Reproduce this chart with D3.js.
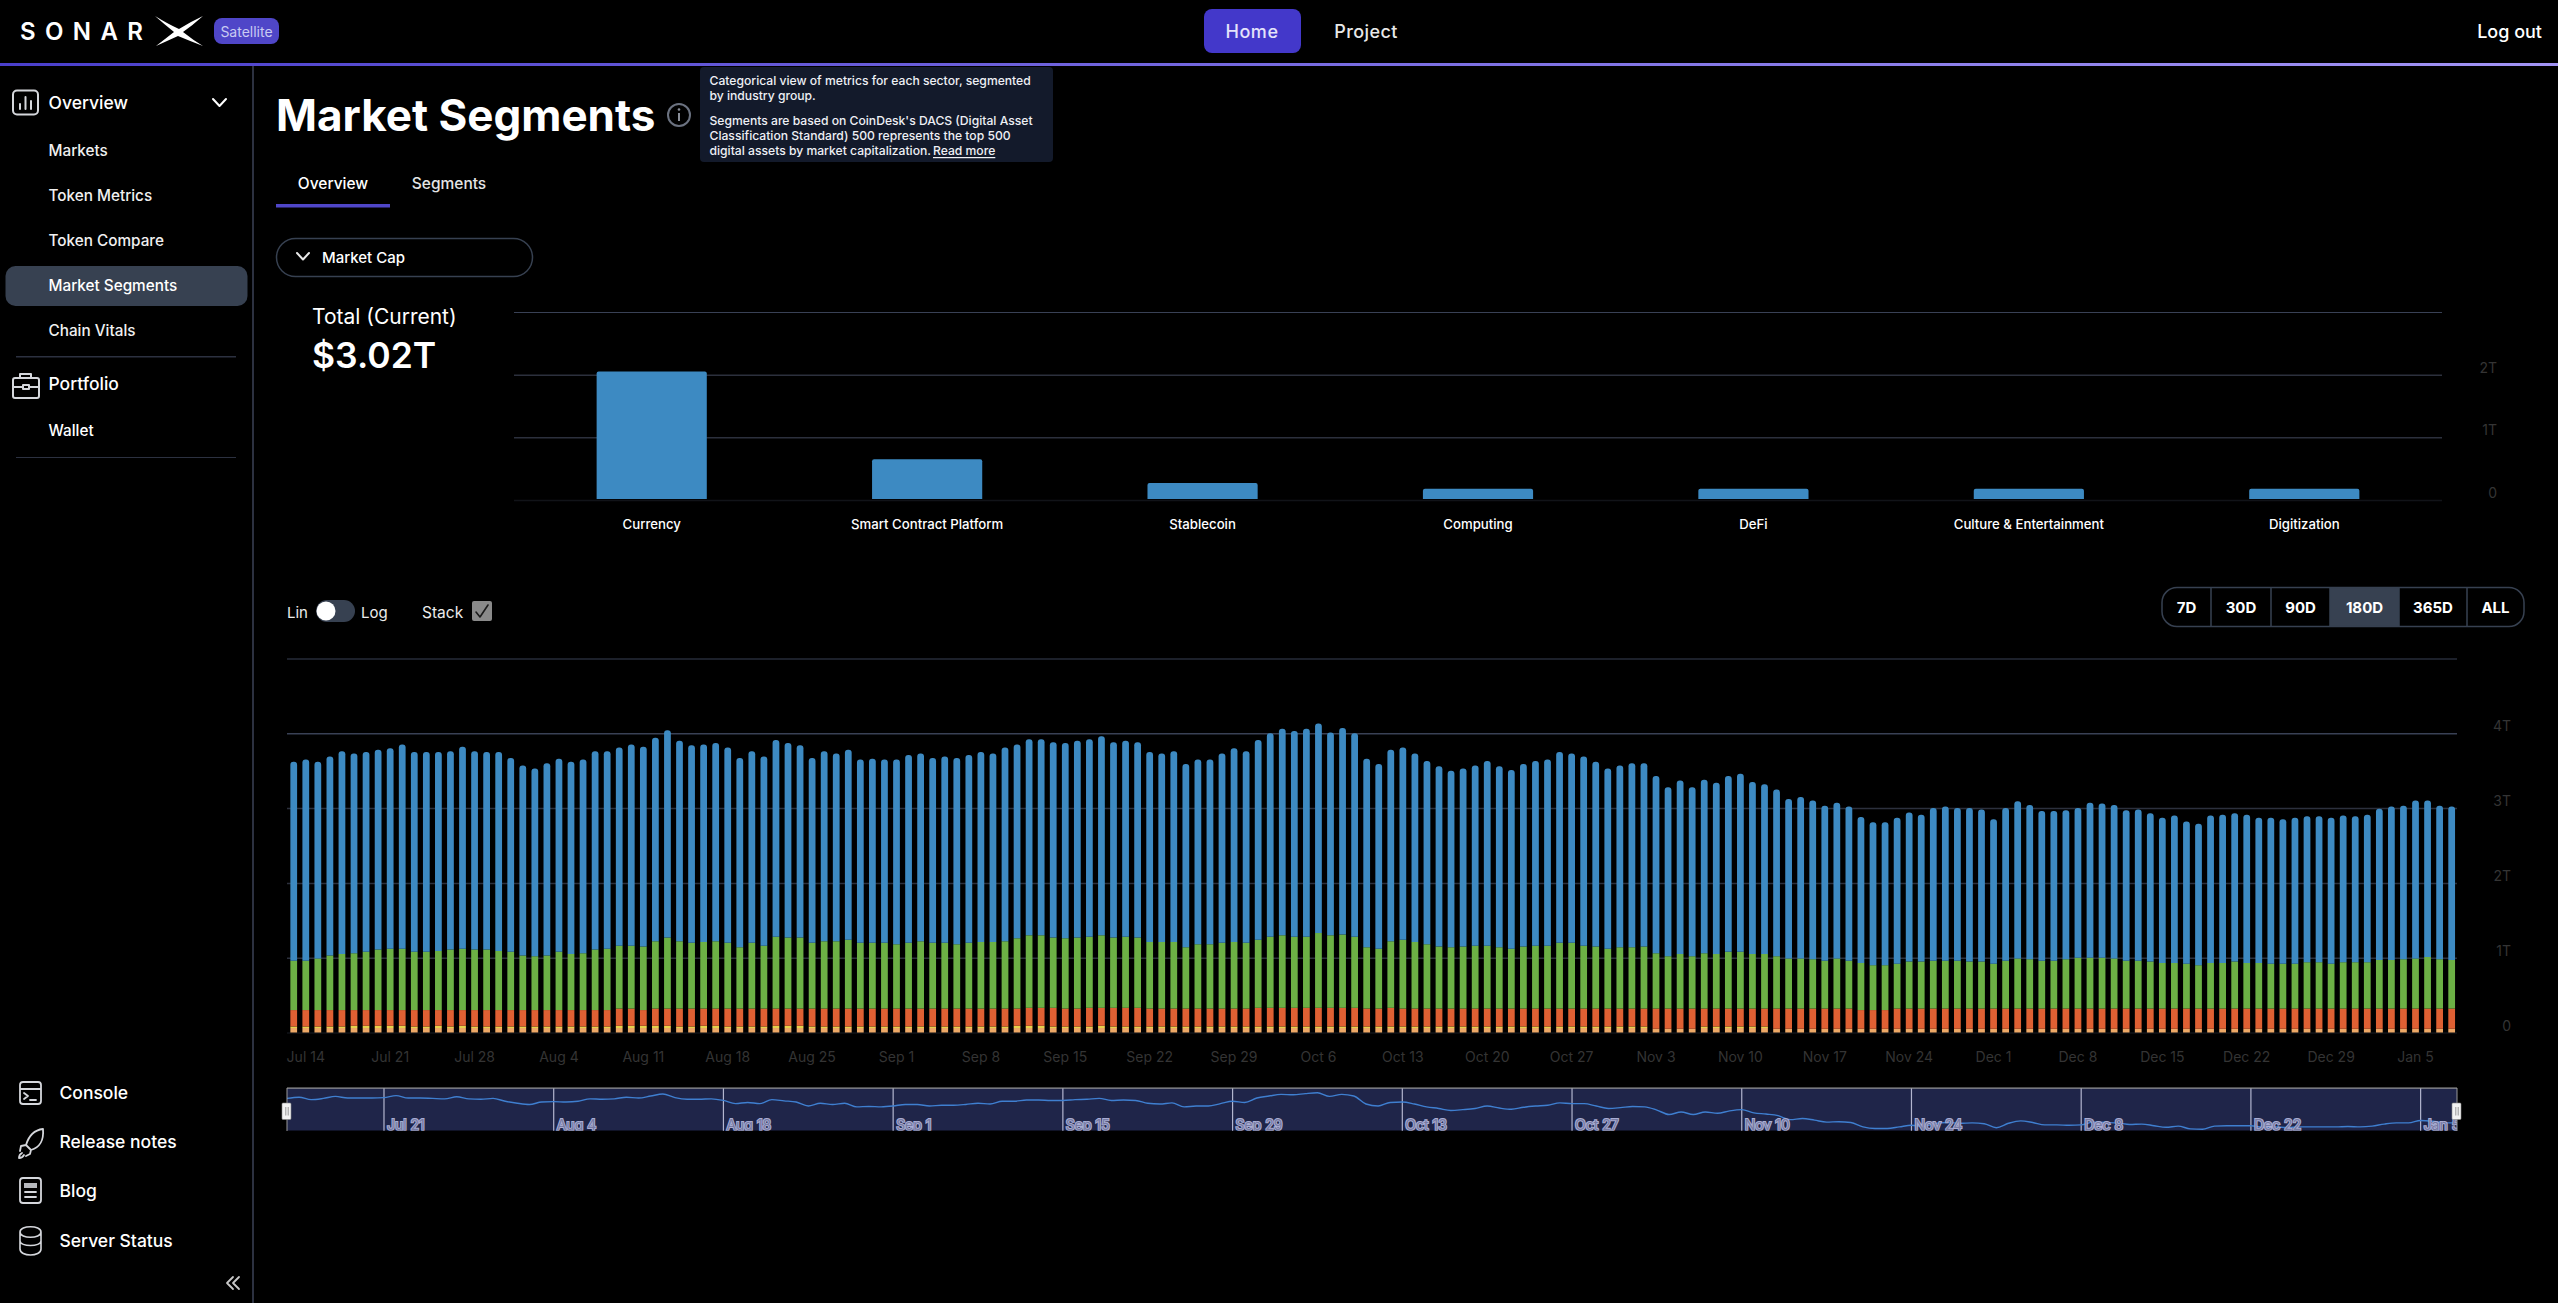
<!DOCTYPE html>
<html>
<head>
<meta charset="utf-8">
<title>Market Segments</title>
<script src="https://cdn.jsdelivr.net/npm/d3@7"></script>
<style>
  html, body { margin: 0; background: #000; overflow: hidden; }
  svg { display: block; font-family: Inter, "Noto Sans", sans-serif; }
  .axis .domain { display: none; }
</style>
</head>
<body>
<svg id="page" width="2558" height="1303"></svg>
<script>
// ----- data -----
const sectors = ["Currency", "Smart Contract Platform", "Stablecoin", "Computing", "DeFi", "Culture & Entertainment", "Digitization"];
const sectorCaps = [2.05, 0.65, 0.27, 0.18, 0.18, 0.18, 0.18];
const sectorTicks = [0, 1, 2, 3];
const sectorTickLabels = ["0", "1T", "2T", ""];

const weekTicks = ["Jul 14", "Jul 21", "Jul 28", "Aug 4", "Aug 11", "Aug 18", "Aug 25", "Sep 1", "Sep 8", "Sep 15", "Sep 22", "Sep 29", "Oct 6", "Oct 13", "Oct 20", "Oct 27", "Nov 3", "Nov 10", "Nov 17", "Nov 24", "Dec 1", "Dec 8", "Dec 15", "Dec 22", "Dec 29", "Jan 5"];
const sliderTicks = ["Jul 21", "Aug 4", "Aug 18", "Sep 1", "Sep 15", "Sep 29", "Oct 13", "Oct 27", "Nov 10", "Nov 24", "Dec 8", "Dec 22", "Jan 5"];
const stackTicks = [0, 1, 2, 3, 4, 5];
const stackTickLabels = ["0", "1T", "2T", "3T", "4T", ""];

// stack tops per day, in trillions, read bottom to top off the bars
const digitizationTop = [
  .06,.06,.06,.06,.06,.06,.06,.06,.06,.06, .06,.06,.06,.06,.06,.06,.06,.06,.06,.06,
  .06,.06,.06,.06,.06,.06,.06,.06,.06,.06, .06,.06,.06,.06,.06,.06,.06,.06,.06,.06,
  .06,.06,.06,.06,.06,.06,.06,.06,.06,.06, .06,.06,.06,.06,.06,.06,.06,.06,.06,.06,
  .06,.06,.06,.06,.06,.06,.06,.06,.06,.06, .06,.06,.06,.06,.06,.06,.06,.06,.06,.06,
  .06,.06,.06,.06,.06,.06,.06,.06,.06,.06, .06,.06,.06,.06,.06,.06,.06,.06,.06,.06,
  .06,.06,.06,.06,.06,.06,.06,.06,.06,.06, .06,.06,.06,.05,.05,.05,.05,.06,.06,.06,
  .06,.06,.06,.05,.05,.05,.05,.05,.05,.05, .05,.05,.05,.05,.05,.05,.05,.05,.05,.05,
  .05,.05,.05,.05,.05,.05,.05,.05,.05,.05, .05,.05,.05,.05,.05,.05,.05,.05,.05,.05,
  .05,.05,.05,.05,.05,.05,.05,.05,.05,.05, .05,.05,.05,.05,.05,.05,.05,.05,.05,.05];
const defiTop = [
  .08,.08,.08,.08,.08,.09,.09,.09,.09,.09, .08,.08,.09,.08,.09,.08,.08,.08,.08,.08,
  .08,.08,.08,.08,.08,.08,.08,.09,.09,.09, .09,.09,.08,.08,.09,.09,.08,.08,.08,.08,
  .09,.09,.09,.08,.08,.08,.08,.08,.08,.08, .08,.08,.08,.08,.08,.08,.08,.08,.08,.08,
  .09,.09,.09,.08,.08,.08,.08,.09,.08,.08, .08,.08,.08,.08,.08,.08,.08,.08,.08,.08,
  .08,.08,.08,.08,.08,.08,.08,.08,.08,.08, .08,.08,.08,.08,.08,.08,.08,.08,.08,.08,
  .08,.08,.08,.08,.08,.08,.08,.08,.08,.08, .08,.08,.08,.05,.05,.05,.05,.08,.08,.08,
  .08,.08,.08,.05,.05,.05,.05,.05,.05,.05, .05,.05,.05,.05,.05,.05,.05,.05,.05,.05,
  .05,.05,.05,.05,.05,.05,.05,.05,.05,.05, .05,.05,.05,.05,.05,.05,.05,.05,.05,.05,
  .05,.05,.05,.05,.05,.05,.05,.05,.05,.05, .05,.05,.05,.05,.05,.05,.05,.05,.05,.05];
const stablecoinTop = [
  .30,.30,.30,.30,.30,.30,.30,.30,.30,.30, .30,.30,.30,.30,.30,.30,.30,.30,.30,.30,
  .30,.30,.30,.30,.30,.30,.30,.32,.32,.30, .32,.32,.32,.32,.32,.32,.32,.32,.32,.32,
  .32,.32,.32,.32,.32,.32,.32,.32,.32,.32, .32,.32,.32,.32,.32,.32,.32,.32,.32,.32,
  .32,.33,.33,.33,.32,.32,.33,.33,.33,.33, .33,.32,.32,.32,.32,.32,.32,.32,.32,.32,
  .33,.33,.33,.33,.33,.33,.33,.33,.33,.32, .32,.33,.32,.32,.32,.32,.32,.32,.32,.32,
  .32,.32,.32,.32,.32,.32,.32,.32,.32,.32, .32,.32,.32,.32,.32,.32,.32,.32,.32,.32,
  .32,.32,.32,.32,.32,.32,.32,.32,.32,.32, .30,.30,.30,.32,.32,.32,.32,.32,.32,.32,
  .32,.32,.32,.32,.32,.32,.32,.32,.32,.32, .32,.32,.32,.32,.32,.32,.32,.32,.32,.32,
  .32,.32,.32,.32,.32,.32,.32,.32,.32,.32, .32,.32,.32,.32,.32,.32,.32,.32,.32,.32];
const platformTop = [
  .96,.96,.99,1.03,1.05,1.06,1.08,1.11,1.12,1.12,1.08,1.08,1.09,1.11,1.12,1.11,1.11,1.09,1.08,1.03,
  1.02,1.03,1.08,1.05,1.06,1.11,1.12,1.16,1.16,1.15,1.22,1.27,1.22,1.20,1.21,1.22,1.20,1.14,1.20,1.16,
  1.28,1.27,1.27,1.20,1.22,1.22,1.24,1.20,1.20,1.20,1.18,1.20,1.22,1.20,1.20,1.18,1.20,1.21,1.21,1.22,
  1.26,1.30,1.30,1.27,1.26,1.27,1.28,1.30,1.27,1.28,1.27,1.21,1.21,1.21,1.14,1.18,1.18,1.20,1.21,1.20,
  1.24,1.28,1.30,1.28,1.28,1.33,1.30,1.31,1.28,1.14,1.12,1.22,1.24,1.21,1.18,1.15,1.14,1.15,1.16,1.16,
  1.14,1.12,1.15,1.16,1.16,1.20,1.20,1.16,1.15,1.12,1.14,1.14,1.15,1.06,1.02,1.05,1.02,1.06,1.05,1.08,
  1.08,1.05,1.05,1.02,.99,.99,.98,.96,.99,.96,.93,.90,.90,.92,.95,.95,.96,.96,.96,.95,
  .95,.92,.96,.99,.98,.96,.96,.98,1.00,1.00,1.00,.99,.96,.96,.95,.93,.93,.92,.90,.93,
  .93,.95,.93,.93,.92,.92,.92,.94,.94,.92,.94,.94,.94,.97,.97,.98,.99,1.01,.98,.97];
const totalTop = [
  3.62,3.65,3.62,3.69,3.76,3.73,3.75,3.78,3.80,3.85,3.75,3.75,3.75,3.76,3.82,3.76,3.75,3.75,3.67,3.57,
  3.53,3.60,3.66,3.62,3.65,3.76,3.76,3.81,3.85,3.82,3.94,4.04,3.90,3.84,3.85,3.87,3.81,3.67,3.76,3.69,
  3.91,3.87,3.84,3.67,3.76,3.73,3.78,3.65,3.66,3.65,3.65,3.71,3.73,3.67,3.69,3.67,3.71,3.75,3.73,3.81,
  3.85,3.92,3.92,3.88,3.87,3.90,3.92,3.96,3.88,3.90,3.88,3.75,3.73,3.76,3.59,3.65,3.65,3.73,3.80,3.76,
  3.91,4.00,4.06,4.03,4.06,4.13,4.01,4.07,4.00,3.66,3.59,3.78,3.81,3.73,3.63,3.56,3.50,3.53,3.57,3.63,
  3.56,3.51,3.59,3.63,3.65,3.75,3.73,3.69,3.62,3.53,3.57,3.60,3.60,3.43,3.28,3.37,3.28,3.38,3.34,3.43,
  3.46,3.35,3.32,3.25,3.12,3.15,3.10,3.03,3.07,3.02,2.88,2.81,2.81,2.87,2.94,2.91,3.00,3.02,3.00,3.00,
  2.98,2.85,3.00,3.09,3.04,2.96,2.96,2.97,3.00,3.07,3.06,3.04,2.97,2.98,2.93,2.87,2.90,2.82,2.79,2.90,
  2.91,2.93,2.91,2.87,2.87,2.85,2.87,2.89,2.89,2.87,2.90,2.89,2.91,2.99,3.02,3.03,3.10,3.10,3.03,3.02];

const rangeOptions = ["7D", "30D", "90D", "180D", "365D", "ALL"];
const menuItems = ["Markets", "Token Metrics", "Token Compare", "Market Segments", "Chain Vitals"];
const footerItems = ["Console", "Release notes", "Blog", "Server Status"];
const tooltipLines = [
  "Categorical view of metrics for each sector, segmented",
  "by industry group.",
  "Segments are based on CoinDesk's DACS (Digital Asset",
  "Classification Standard) 500 represents the top 500",
  "digital assets by market capitalization."
];

// ----- helpers -----
const svg = d3.select("#page");
const BLUE = "#3d8ac2", GRID = "#2c303d", GRID_TOP = "#394155", DIM = "#343434";

function text(parent, x, y, str, o = {}) {
  return parent.append("text")
    .attr("x", x).attr("y", y)
    .attr("dominant-baseline", "central")
    .attr("text-anchor", o.anchor || "start")
    .attr("fill", o.fill || "#fff")
    .attr("font-size", o.size || 15)
    .attr("font-weight", o.weight || 500)
    .attr("letter-spacing", o.spacing || null)
    .text(str);
}

function icon(d, w = 2, stroke = "#d5d7dc") {
  return svg.append("path").attr("d", d).attr("fill", "none")
    .attr("stroke", stroke).attr("stroke-width", w)
    .attr("stroke-linecap", "round").attr("stroke-linejoin", "round");
}

// bar with only the top corners rounded
function roundedTop(x, yTop, w, yBase, r) {
  const p = d3.path();
  p.moveTo(x, yBase);
  p.lineTo(x, yTop + r);
  p.arcTo(x, yTop, x + r, yTop, r);
  p.lineTo(x + w - r, yTop);
  p.arcTo(x + w, yTop, x + w, yTop + r, r);
  p.lineTo(x + w, yBase);
  p.closePath();
  return p.toString();
}

function grid(scale, ticks, labels, left, right, labelX) {
  const g = svg.append("g").attr("class", "axis").attr("transform", `translate(${right},0)`);
  g.call(d3.axisRight(scale).tickValues(ticks).tickSize(left - right).tickFormat((d) => labels[ticks.indexOf(d)]));
  g.selectAll(".tick line")
    .attr("stroke", (d) => (d === 0 ? "#111318" : d === ticks[ticks.length - 1] || d === 4 ? GRID_TOP : GRID))
    .attr("stroke-width", (d) => (d === ticks[ticks.length - 1] ? 1 : 1.5));
  // labels sit above their gridline
  g.selectAll(".tick text")
    .attr("x", labelX - right).attr("dy", -2.5).attr("text-anchor", "end")
    .attr("fill", DIM).attr("font-size", 14).attr("font-family", "Inter");
}

// ----- header -----
const headerGrad = svg.append("defs").append("linearGradient").attr("id", "headerLine");
headerGrad.append("stop").attr("offset", "0%").attr("stop-color", "#4a3fcb");
headerGrad.append("stop").attr("offset", "100%").attr("stop-color", "#a294f5");
svg.append("rect").attr("x", 0).attr("y", 63).attr("width", 2558).attr("height", 3).attr("fill", "url(#headerLine)");

text(svg, 20, 31, "SONAR", { size: 24, weight: 600, spacing: 9.4 });
svg.append("path").attr("fill", "#fff")
  .attr("d", "M155 16 Q168 24 179 29 Q190 22 203 16 Q193 25 183 32 Q193 40 203 46 Q190 41 178 36 Q167 41 156 46 Q165 39 174 32 Q164 24 155 16 Z");
svg.append("rect").attr("x", 214).attr("y", 18).attr("width", 65).attr("height", 26).attr("rx", 8).attr("fill", "#4f46c8");
text(svg, 246.5, 31, "Satellite", { size: 14, anchor: "middle", fill: "#c9cbf2", weight: 400 });

svg.append("rect").attr("x", 1204).attr("y", 9).attr("width", 97).attr("height", 44).attr("rx", 8).attr("fill", "#4338ca");
text(svg, 1252, 31, "Home", { size: 18, anchor: "middle", spacing: 0.6, fill: "#e4e3fa" });
text(svg, 1366, 31, "Project", { size: 18, anchor: "middle", spacing: 0.4, fill: "#e8e8e8" });
text(svg, 2542, 31, "Log out", { size: 18, anchor: "end" });

// ----- sidebar -----
svg.append("rect").attr("x", 252).attr("y", 66).attr("width", 2).attr("height", 1237).attr("fill", "#2c3140");
svg.append("rect").attr("x", 5.5).attr("y", 266).attr("width", 242).attr("height", 40).attr("rx", 10).attr("fill", "#374151");

icon("M17 90.5h17a4 4 0 0 1 4 4v16a4 4 0 0 1-4 4H17a4 4 0 0 1-4-4v-16a4 4 0 0 1 4-4z M20 109v-5 M25.5 109V97 M31 109v-8");
text(svg, 48.5, 102.5, "Overview", { size: 17.5 });
icon("M213 99l6.5 7 6.5-7", 2, "#fff");
menuItems.forEach((m, i) => text(svg, 48.5, 150.5 + i * 45, m, { size: 15.3, fill: i === 3 ? "#fff" : "#f0f0f0" }));
svg.append("rect").attr("x", 16).attr("y", 356).attr("width", 220).attr("height", 1.5).attr("fill", "#2c3140");
icon("M16 378h-1a2 2 0 0 0-2 2v16a2 2 0 0 0 2 2h22a2 2 0 0 0 2-2v-16a2 2 0 0 0-2-2H16z M20 378v-4h11v4 M13 387h10 M29 387h10 M23 385h6v4h-6z");
text(svg, 48.5, 383.5, "Portfolio", { size: 17.5 });
text(svg, 48.5, 430, "Wallet", { size: 15.3 });
svg.append("rect").attr("x", 16).attr("y", 457).attr("width", 220).attr("height", 1).attr("fill", "#2c3140");

const footerY = [1092, 1141, 1190.5, 1240];
footerItems.forEach((m, i) => text(svg, 59.5, footerY[i], m, { size: 17.5 }));
icon("M23 1082h15a3 3 0 0 1 3 3v16a3 3 0 0 1-3 3H23a3 3 0 0 1-3-3v-16a3 3 0 0 1 3-3z M20 1089h21 M24 1093l4 3-4 3 M30 1100h6", 1.8);
icon("M43 1129c-8 1-14 6-17 16l5 5c9-3 13-9 12-21z M26 1145l-5 1-1 5 M31 1150l-1 4-4 2 M22 1153c-2 1-3 3-3 5 2 0 4-1 5-3", 1.8);
icon("M23 1178h15a3 3 0 0 1 3 3v19a3 3 0 0 1-3 3H23a3 3 0 0 1-3-3v-19a3 3 0 0 1 3-3z M25 1192h11 M25 1197h11", 1.8);
svg.append("rect").attr("x", 24).attr("y", 1183).attr("width", 13).attr("height", 5).attr("fill", "#b6b8bd");
icon("M20 1232c0-7 21-7 21 0s-21 7-21 0zM20 1232v17c0 8 21 8 21 0v-17 M20 1241c0 6 21 6 21 0", 1.6);
icon("M233 1277l-6 6 6 6 M239 1277l-6 6 6 6", 1.8, "#c8c8c8");

// ----- page heading -----
text(svg, 276, 115, "Market Segments", { size: 44, weight: 700 });
svg.append("circle").attr("cx", 679).attr("cy", 115).attr("r", 11).attr("fill", "none").attr("stroke", "#6b7280").attr("stroke-width", 2);
svg.append("circle").attr("cx", 679).attr("cy", 109.5).attr("r", 1.3).attr("fill", "#8a8f99");
svg.append("rect").attr("x", 678).attr("y", 113).attr("width", 2).attr("height", 8).attr("fill", "#8a8f99");

svg.append("rect").attr("x", 700).attr("y", 67).attr("width", 353).attr("height", 95).attr("rx", 4).attr("fill", "#131a2b");
[80, 95, 120.5, 135.5, 150.5].forEach((y, i) => text(svg, 709.5, y, tooltipLines[i], { size: 12.15, fill: "#eef0f5" }));
text(svg, 933, 150.5, "Read more", { size: 12.15, fill: "#eef0f5" }).attr("text-decoration", "underline");

text(svg, 333, 183.5, "Overview", { size: 15.5, anchor: "middle" });
text(svg, 449, 183.5, "Segments", { size: 15.5, anchor: "middle", fill: "#e5e5e5" });
svg.append("rect").attr("x", 276).attr("y", 204).attr("width", 114).attr("height", 3.5).attr("fill", "#4f46c8");

svg.append("rect").attr("x", 276.5).attr("y", 238.5).attr("width", 256).attr("height", 38).attr("rx", 19).attr("fill", "none").attr("stroke", "#374151").attr("stroke-width", 1.5);
icon("M297 253l6 6.5 6-6.5", 2, "#e8e8e8");
text(svg, 322, 257.5, "Market Cap", { size: 15 });

text(svg, 312, 316, "Total (Current)", { size: 21, weight: 400 });
text(svg, 312, 355, "$3.02T", { size: 35.5, weight: 600 });

// ----- sector bars -----
const sectorX = d3.scaleBand().domain(sectors).range([514, 2442]).paddingInner(0.6).paddingOuter(0.3);
const sectorY = d3.scaleLinear().domain([0, 3]).range([500, 312]);

grid(sectorY, sectorTicks, sectorTickLabels, 514, 2442, 2497);

svg.append("g").selectAll("path").data(sectors).join("path")
  .attr("fill", BLUE)
  .attr("d", (s, i) => roundedTop(sectorX(s), sectorY(sectorCaps[i]), sectorX.bandwidth(), sectorY(0) - 1, 2));

svg.append("g").attr("class", "axis").attr("transform", "translate(0,524)")
  .call(d3.axisBottom(sectorX).tickSize(0))
  .selectAll("text")
  .attr("y", 0).attr("dy", "0.35em")
  .attr("fill", "#fff").attr("font-size", 13.2).attr("font-family", "Inter").attr("font-weight", 500);

// ----- controls -----
text(svg, 287, 612, "Lin", { size: 15, fill: "#ececec", weight: 400 });
svg.append("rect").attr("x", 316).attr("y", 600).attr("width", 39).attr("height", 22).attr("rx", 11).attr("fill", "#374151");
svg.append("circle").attr("cx", 326).attr("cy", 611).attr("r", 9.5).attr("fill", "#fff");
text(svg, 361, 612, "Log", { size: 15, fill: "#ececec", weight: 400 });
text(svg, 422, 612, "Stack", { size: 15.5, fill: "#ececec", weight: 400 });
svg.append("rect").attr("x", 472).attr("y", 601).attr("width", 20).attr("height", 20).attr("rx", 2).attr("fill", "#8a8a8a");
icon("M476 612l4 5 8-12", 1.6, "#1b1b1b");

// range buttons
const btnEdges = [2162, 2211, 2271, 2330, 2399, 2467, 2524];
svg.append("rect").attr("x", 2330).attr("y", 587.5).attr("width", 69).attr("height", 39).attr("fill", "#374151");
svg.append("rect").attr("x", 2162).attr("y", 587.5).attr("width", 362).attr("height", 39).attr("rx", 15).attr("fill", "none").attr("stroke", "#374151").attr("stroke-width", 1.5);
btnEdges.slice(1, -1).forEach((x) => svg.append("rect").attr("x", x - 0.75).attr("y", 587.5).attr("width", 1.5).attr("height", 39).attr("fill", "#374151"));
rangeOptions.forEach((r, i) => text(svg, (btnEdges[i] + btnEdges[i + 1]) / 2, 607, r, { size: 15, weight: 700, anchor: "middle" }));

// ----- stacked daily bars -----
const dayFormat = d3.timeFormat("%b %-d");
const days = d3.timeDay.range(new Date(2024, 6, 13), new Date(2025, 0, 9)).map(dayFormat);

const x = d3.scaleBand().domain(days).range([287.7, 2457.7]).paddingInner(0.44).paddingOuter(0.22);
const y = d3.scaleLinear().domain([0, 5]).range([1032.5, 658.5]);

grid(y, stackTicks, stackTickLabels, 287, 2457, 2511);

const layers = [
  { base: null, top: digitizationTop, color: "#eda866" },
  { base: digitizationTop, top: defiTop, color: "#e6d24c" },
  { base: defiTop, top: stablecoinTop, color: "#df6033" },
  { base: stablecoinTop, top: platformTop, color: "#6cb045" },
];

layers.forEach((l) => {
  svg.append("g").selectAll("rect").data(days).join("rect")
    .attr("x", (d) => x(d))
    .attr("width", x.bandwidth())
    .attr("y", (d, i) => y(l.top[i]))
    .attr("height", (d, i) => y(l.base ? l.base[i] : 0) - y(l.top[i]))
    .attr("fill", l.color);
});

svg.append("g").selectAll("path").data(days).join("path")
  .attr("fill", BLUE)
  .attr("d", (d, i) => roundedTop(x(d), y(totalTop[i]), x.bandwidth(), y(platformTop[i]), 3));

const dateAxis = svg.append("g").attr("class", "axis").attr("transform", "translate(0,1057)")
  .call(d3.axisBottom(x).tickValues(weekTicks).tickSize(0));
dateAxis.selectAll("text")
  .attr("y", 0).attr("dy", "0.35em")
  .attr("fill", DIM).attr("font-size", 14).attr("font-family", "Inter").attr("font-weight", 400);

// ----- range slider -----
const miniX = d3.scalePoint().domain(days).range([287, 2457]);
// the slider line follows the blue series alone
const currency = totalTop.map((t, i) => t - platformTop[i]);
const miniY = d3.scaleLinear().domain([1.855, 2.92]).range([1130.7, 1088]);

svg.append("clipPath").attr("id", "miniClip").append("rect")
  .attr("x", 287).attr("y", 1088).attr("width", 2170).attr("height", 42.7);
const mini = svg.append("g").attr("clip-path", "url(#miniClip)");
mini.append("rect").attr("x", 287).attr("y", 1088).attr("width", 2170).attr("height", 42.7).attr("fill", "#1f2549");

mini.selectAll("line").data(sliderTicks).join("line")
  .attr("x1", (d) => miniX(d)).attr("x2", (d) => miniX(d))
  .attr("y1", 1088).attr("y2", 1131)
  .attr("stroke", "#b3b6cf").attr("stroke-width", 1.2);

mini.append("path").datum(days)
  .attr("fill", "none").attr("stroke", "#3f7fd0").attr("stroke-width", 1.4)
  .attr("d", d3.line().x((d) => miniX(d)).y((d, i) => miniY(currency[i])).curve(d3.curveMonotoneX));

mini.selectAll("text").data(sliderTicks).join("text")
  .attr("x", (d) => miniX(d) + 3).attr("y", 1130)
  .attr("font-size", 14).attr("font-weight", 400)
  .attr("fill", "#767aa3").attr("stroke", "#a9adD3").attr("stroke-width", 2)
  .attr("paint-order", "stroke")
  .text((d) => d);

svg.append("rect").attr("x", 287).attr("y", 1087.5).attr("width", 2170).attr("height", 1.2).attr("fill", "#9a9a9a");
svg.append("rect").attr("x", 286.5).attr("y", 1088).attr("width", 1).attr("height", 43).attr("fill", "#9a9a9a");
svg.append("rect").attr("x", 2456.5).attr("y", 1088).attr("width", 1).attr("height", 43).attr("fill", "#9a9a9a");

[282, 2452].forEach((hx) => {
  svg.append("rect").attr("x", hx).attr("y", 1103).attr("width", 9).attr("height", 16.5).attr("rx", 1).attr("fill", "#f2f2f2").attr("stroke", "#8a8a8a").attr("stroke-width", 0.6);
  [3.3, 5.7].forEach((o) => svg.append("rect").attr("x", hx + o).attr("y", 1107).attr("width", 1).attr("height", 8.5).attr("fill", "#999"));
});
</script>
</body>
</html>
